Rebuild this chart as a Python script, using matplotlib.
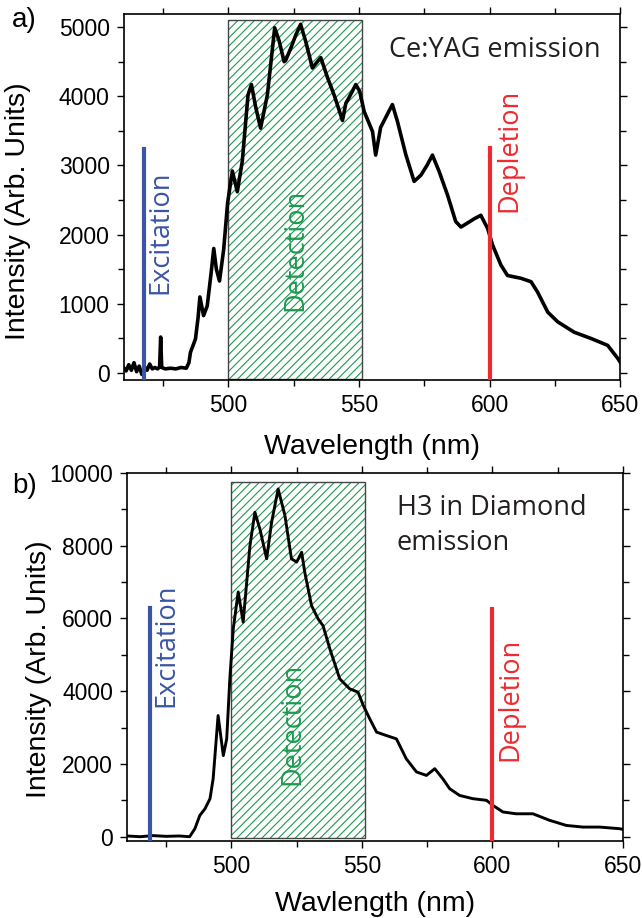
import numpy as np
import matplotlib
matplotlib.use("Agg")
import matplotlib.pyplot as plt
from matplotlib.patches import Rectangle

plt.rcParams['font.family'] = ['Liberation Sans', 'DejaVu Sans']
plt.rcParams['hatch.linewidth'] = 0.8

# Ce:YAG emission spectrum
yag_wl = [460, 461, 462, 463, 464, 465, 466, 467, 468, 469, 470, 471, 472, 473,
          473.8, 474.2, 474.6, 476, 478, 480, 482, 484, 485, 485.6, 487.5, 488.5,
          489.2, 490.6, 492, 493.5, 494.5, 495.5, 496.7, 498.3, 499.8, 501.6,
          503.5, 505.4, 507.6, 508.9, 510.5, 512.4, 515, 517.8, 519.5, 521.4,
          522, 524, 525.8, 527.7, 529.6, 532.2, 535.4, 538, 540.5, 542, 543.7,
          545, 546.2, 548.8, 550.3, 552, 555.2, 556.4, 558.3, 561.4, 562.8,
          564.7, 567.9, 571.1, 573.7, 576, 578.1, 580.7, 583.9, 587, 589, 592,
          594.1, 596.6, 599.2, 601.1, 604.3, 606.8, 611.9, 615.8, 618.3, 622.2,
          626, 632.3, 638.7, 645.1, 649, 650]
yag_int = [80, 30, 120, 40, 150, 20, 100, -20, 90, 40, 130, 60, 80, 60,
           90, 520, 80, 60, 70, 60, 80, 70, 150, 300, 490, 800,
           1100, 830, 970, 1450, 1800, 1500, 1330, 1790, 2460, 2920,
           2620, 3060, 4020, 4170, 3850, 3540, 4020, 4990, 4800, 4500,
           4520, 4700, 4880, 5040, 4800, 4410, 4560, 4270, 4020, 3850, 3650,
           3900, 3980, 4170, 4070, 3780, 3490, 3150, 3550, 3780, 3880,
           3640, 3160, 2770, 2860, 3000, 3150, 2910, 2570, 2190, 2110, 2180,
           2230, 2280, 2090, 1850, 1560, 1410, 1370, 1320, 1170, 880,
           740, 590, 500, 400, 210, 150]

# H3 in diamond emission spectrum
h3_wl = [460, 465, 470, 475, 480, 484, 486, 487.9, 489.9, 491.8, 493, 494.9,
         496.9, 498.2, 499.4, 500.7, 502.6, 504.5, 507.1, 509, 510.9, 513.5,
         515.4, 517.9, 520.5, 523, 525, 526.9, 528.1, 530.7, 533.2, 535.1,
         537.7, 541.5, 545.3, 548.5, 550.5, 553, 555.6, 559.4, 563.2, 567,
         570.9, 574.7, 577.9, 581, 583.6, 587.4, 592.5, 597.7, 600.2, 604,
         609.1, 615.5, 621.9, 628.3, 634.6, 641, 648.7, 650]
h3_int = [20, 0, 30, 10, 20, 0, 220, 585, 770, 1045, 1590, 3330,
          2230, 2690, 4340, 5710, 6730, 5900, 8000, 8920, 8460, 7640,
          8645, 9560, 8830, 7640, 7550, 7820, 7270, 6350, 5990, 5800,
          5165, 4340, 4065, 3975, 3610, 3240, 2875, 2780, 2690, 2140,
          1780, 1685, 1870, 1590, 1320, 1135, 1045, 1000, 860, 680,
          630, 630, 450, 310, 265, 265, 220, 200]

exc_wl = [468, 469]
dep_wl = [600, 600]
line_top = [3240, 6300]
det_band = [500, 551]

blue = '#3a55a5'
red = '#ee2a2f'
green = '#1c9a4f'
dark = '#231f20'

fig = plt.figure(figsize=(6.42, 9.18), dpi=100)
ax1 = fig.add_axes([0.1924, 0.5861, 0.7741, 0.3987])
ax2 = fig.add_axes([0.1978, 0.0842, 0.7726, 0.4006])

panels = [
    (ax1, yag_wl, yag_int, (-100, 5190), 1000, 500, 5108, -85, 0, 'Wavelength (nm)', 2.6),
    (ax2, h3_wl, h3_int, (-110, 10000), 2000, 1000, 9740, -40, 1, 'Wavlength (nm)', 2.1),
]

for ax, wl, inten, ylim, major, minor, rtop, rbot, i, xl, lw in panels:
    ax.add_patch(Rectangle((det_band[0], rbot), det_band[1] - det_band[0], rtop - rbot,
                           facecolor='none', edgecolor=green, hatch='////', lw=0, zorder=1))
    ax.add_patch(Rectangle((det_band[0], rbot), det_band[1] - det_band[0], rtop - rbot,
                           facecolor='none', edgecolor='#444444', lw=1.0, zorder=2))
    ax.plot(wl, inten, color='black', lw=lw, zorder=3)
    ax.plot([exc_wl[i], exc_wl[i]], [ylim[0], line_top[i]], color=blue, lw=3, zorder=4)
    ax.plot([dep_wl[i], dep_wl[i]], [ylim[0], line_top[i] * (0.995 if i else 1.005)],
            color=red, lw=3, zorder=4)
    ax.set_xlim(460, 650)
    ax.set_ylim(*ylim)
    ax.set_xticks([500, 550, 600, 650])
    ax.set_xticks([475, 525, 575, 625], minor=True)
    ax.set_yticks(np.arange(0, ylim[1] + 1, major))
    ax.set_yticks(np.arange(minor, ylim[1], major), minor=True)
    ax.tick_params(which='both', direction='out', top=True, right=True, labelsize=16.5,
                   width=1.0, pad=5)
    ax.tick_params(which='major', length=5)
    ax.tick_params(which='minor', length=4)
    for s in ax.spines.values():
        s.set_linewidth(1.2)
    ax.set_xlabel(xl, fontsize=20.5)
    ax.set_ylabel('Intensity (Arb. Units)', fontsize=20.5)

ax1.xaxis.set_label_coords(0.5, -0.147)
ax2.xaxis.set_label_coords(0.5, -0.137)
ax1.yaxis.set_label_coords(-0.186, 0.462)
ax2.yaxis.set_label_coords(-0.152, 0.467)

lab = dict(fontsize=19.5, family=['Open Sans', 'DejaVu Sans'])
ax1.text(474.0, 2040, 'Excitation', color=blue, rotation=90, ha='center', va='center', **lab)
ax1.text(525.8, 1777, 'Detection', color=green, rotation=90, ha='center', va='center', **lab)
ax1.text(607.6, 3222, 'Depletion', color=red, rotation=90, ha='center', va='center', **lab)
ax1.text(561.6, 4568, 'Ce:YAG emission', color=dark, ha='left', va='baseline', **lab)

ax2.text(474.9, 5260, 'Excitation', color=blue, rotation=90, ha='center', va='center', **lab)
ax2.text(523.5, 3092, 'Detection', color=green, rotation=90, ha='center', va='center', **lab)
ax2.text(606.9, 3783, 'Depletion', color=red, rotation=90, ha='center', va='center', **lab)
ax2.text(563.3, 7893, 'H3 in Diamond\nemission', color=dark, ha='left', va='baseline',
         linespacing=1.3, **lab)

fig.text(12 / 642, 1 - 20 / 918, 'a)', fontsize=20, ha='left', va='center')
fig.text(12 / 642, 1 - 486 / 918, 'b)', fontsize=20, ha='left', va='center')

fig.savefig('out.png', dpi=100)
